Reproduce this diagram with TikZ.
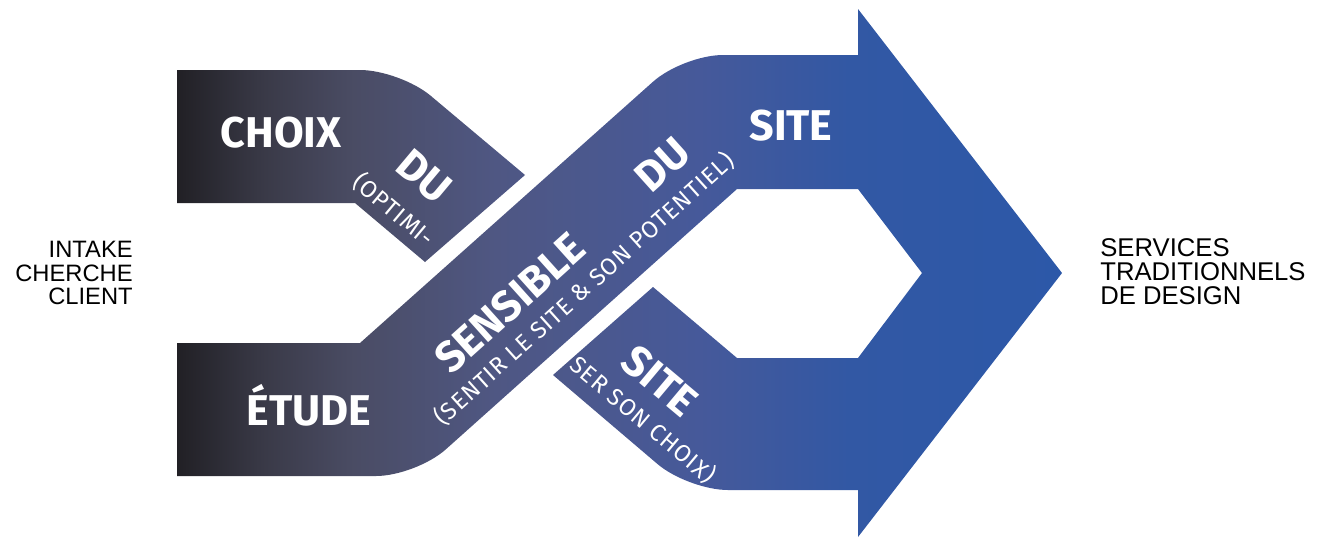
\documentclass[tikz,border=0pt]{standalone}
\usepackage{fontspec}
\setmainfont{Liberation Sans}
\newfontfamily\bandfont{Fira Sans}
\newfontfamily\bandthinfont{Fira Sans}[LetterSpace=4]
\usepackage{tikz}

% colours of the band gradient
\definecolor{shA}{RGB}{33,32,37}
\definecolor{shB}{RGB}{58,58,72}
\definecolor{shC}{RGB}{74,76,100}
\definecolor{shD}{RGB}{79,87,131}
\definecolor{shE}{RGB}{70,89,154}
\definecolor{shF}{RGB}{50,88,164}
\definecolor{shG}{RGB}{44,88,168}
\pgfdeclarehorizontalshading{bandshade}{100bp}{color(0bp)=(shA); color(25bp)=(shA); color(30bp)=(shB); color(35bp)=(shC); color(43bp)=(shD); color(54.5bp)=(shE); color(63bp)=(shF); color(75bp)=(shG); color(100bp)=(shG)}

\tikzset{
  bandbig/.style={text=white,inner sep=0pt,font=\bandfont\bfseries\fontsize{24.5}{26}\selectfont},
  bandsmall/.style={text=white,inner sep=0pt,font=\bandthinfont\fontsize{13.5}{15}\selectfont},
  sidetext/.style={text=black,inner sep=0pt,font=\fontsize{14}{13.6}\selectfont}
}

\begin{document}
\begin{tikzpicture}[x=0.02cm,y=-0.02cm]
\useasboundingbox (0,0) rectangle (1324,538);

% Bands and arrow
\shade[shading=bandshade]
  (177,70) [rounded corners=0.8cm] -- (400,70) [sharp corners] -- (525,175) -- (425,262) -- (355,203) -- (177,203) -- cycle
  (177,343) -- (360,343) [rounded corners=0.8cm] -- (683,55) [sharp corners] -- (858,55) -- (858,9) -- (1062,273)
  -- (858,537) -- (858,490) [rounded corners=0.8cm] -- (688,490) [sharp corners] -- (553,375) -- (653,287)
  -- (737,358) -- (858,358) -- (922,273) -- (858,189) -- (737,189) [rounded corners=0.8cm] -- (416,476)
  [sharp corners] -- (177,476) -- cycle;

% Band texts
\node[bandbig,anchor=base] (choix) at (281,147) {CHOIX};
\node[bandbig,rotate=-40] (du1) at (424,176) {DU};
\node[bandsmall,rotate=-40] (optimi) at (394,210) {(OPTIMI-};
\node[bandbig,anchor=base] (etude) at (309,425) {ÉTUDE};
\node[bandbig,rotate=42] (sensible) at (510,303) {SENSIBLE};
\node[bandsmall,rotate=42] (sentir) at (584,289) {(SENTIR LE SITE \& SON POTENTIEL)};
\node[bandbig,rotate=42] (du2) at (663,165) {DU};
\node[bandbig,anchor=base] (site1) at (791,140) {SITE};
\node[bandbig,rotate=-40] (site2) at (660,381) {SITE};
\node[bandsmall,rotate=-40] (choisir) at (643,420) {SER SON CHOIX)};

% Side texts
\node[sidetext,align=right,anchor=east,font=\fontsize{13.5}{13.6}\selectfont] (intake) at (133,273) {INTAKE\\CHERCHE\\CLIENT};
\node[sidetext,align=left,anchor=west,font=\fontsize{14.6}{13.6}\selectfont] (services) at (1100,272) {SERVICES\\TRADITIONNELS\\DE DESIGN};
\end{tikzpicture}
\end{document}
